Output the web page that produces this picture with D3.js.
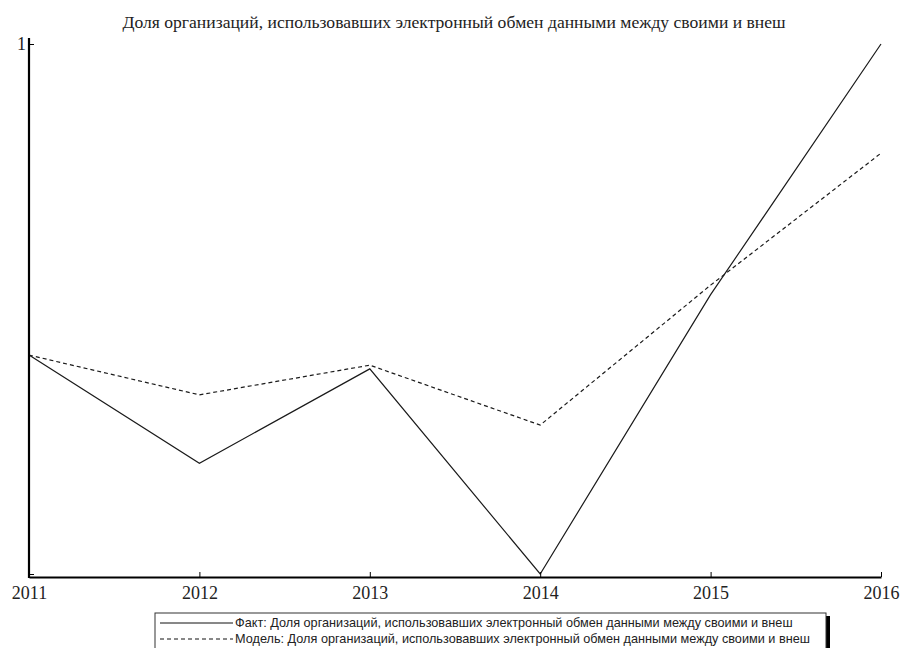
<!DOCTYPE html>
<html>
<head>
<meta charset="utf-8">
<script src="https://cdn.jsdelivr.net/npm/d3@7"></script>
<style>
  html, body { margin: 0; padding: 0; background: #fff; }
  svg { display: block; }
</style>
</head>
<body>
<svg id="chart" width="905" height="648"></svg>
<script>
// Years on the horizontal axis
const years = [2011, 2012, 2013, 2014, 2015, 2016];
// Normalised share values (0..1)
const factValues = [0.413, 0.209, 0.387, 0.0, 0.527, 1.0];
const modelValues = [0.413, 0.338, 0.394, 0.281, 0.545, 0.794];
// Y-axis tick values and labels
const yTickValues = [0, 1];
const yTickLabels = ["", "1"];

const title = "Доля организаций, использовавших электронный обмен данными между своими и внеш";
const legendLabels = [
  "Факт:  Доля организаций, использовавших электронный обмен данными между своими и внеш",
  "Модель: Доля организаций, использовавших электронный обмен данными между своими и внеш"
];

const svg = d3.select("#chart");
const plotLeft = 29, plotRight = 881, plotTop = 44, plotBottom = 574, axisY = 577;

const x = d3.scaleLinear().domain([2011, 2016]).range([plotLeft, plotRight]);
const y = d3.scaleLinear().domain([0, 1]).range([plotBottom, plotTop]);

// Title
svg.append("text")
  .attr("x", 454).attr("y", 28)
  .attr("text-anchor", "middle")
  .attr("font-family", "Liberation Serif, Times New Roman, serif")
  .attr("font-size", 17.6)
  .attr("fill", "#222")
  .text(title);

// Series lines
const line = d3.line().x((d, i) => x(years[i])).y(d => y(d));
svg.append("path").datum(factValues)
  .attr("d", line).attr("fill", "none")
  .attr("stroke", "#1a1a1a").attr("stroke-width", 1.2);
svg.append("path").datum(modelValues)
  .attr("d", line).attr("fill", "none")
  .attr("stroke", "#1a1a1a").attr("stroke-width", 1.2)
  .attr("stroke-dasharray", "4,3");

// X axis
const xAxis = d3.axisBottom(x)
  .tickValues(years)
  .tickFormat(d3.format("d"))
  .tickSizeInner(-5).tickSizeOuter(0).tickPadding(9);
const gx = svg.append("g").attr("transform", `translate(0,${axisY})`).call(xAxis);
gx.select(".domain").attr("stroke", "#000").attr("stroke-width", 2.2);
gx.selectAll(".tick line").attr("stroke", "#000").attr("stroke-width", 1);
gx.selectAll(".tick text")
  .attr("font-family", "Liberation Serif, Times New Roman, serif")
  .attr("font-size", 18).attr("fill", "#222");

// Y axis
const yAxis = d3.axisLeft(y)
  .tickValues(yTickValues)
  .tickFormat((d, i) => yTickLabels[i])
  .tickSizeInner(-5).tickSizeOuter(0).tickPadding(3);
const gy = svg.append("g").attr("transform", `translate(${plotLeft},0)`).call(yAxis);
gy.select(".domain").attr("stroke", "#000").attr("stroke-width", 2.2)
  .attr("d", `M0,38V${axisY + 1}`);
gy.selectAll(".tick line").attr("stroke", "#000").attr("stroke-width", 1);
gy.selectAll(".tick text")
  .attr("font-family", "Liberation Serif, Times New Roman, serif")
  .attr("font-size", 18).attr("fill", "#222");

// Legend
const lg = svg.append("g").attr("transform", "translate(155,613)");
lg.append("rect").attr("x", 4).attr("y", 3).attr("width", 671).attr("height", 36).attr("fill", "#000");
lg.append("rect").attr("x", 0).attr("y", 0).attr("width", 671).attr("height", 36)
  .attr("fill", "#fff").attr("stroke", "#333").attr("stroke-width", 1);
legendLabels.forEach((lab, i) => {
  const yy = 10 + i * 16;
  lg.append("line").attr("x1", 5).attr("x2", 78).attr("y1", yy).attr("y2", yy)
    .attr("stroke", "#111").attr("stroke-width", 1)
    .attr("stroke-dasharray", i === 1 ? "4,3" : null);
  lg.append("text").attr("x", 80).attr("y", yy + 4)
    .attr("font-family", "Liberation Sans, Arial, sans-serif")
    .attr("font-size", 12.7).attr("fill", "#222")
    .text(lab);
});
</script>
</body>
</html>
